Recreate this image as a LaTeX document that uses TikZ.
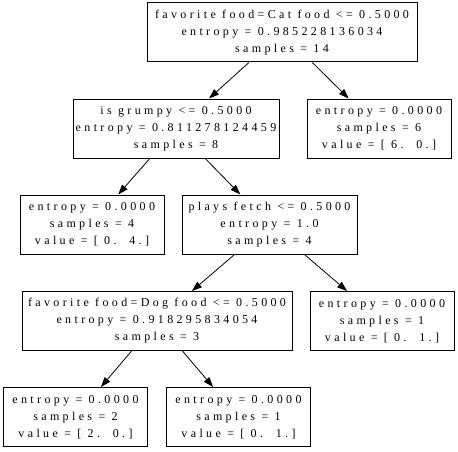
\documentclass[tikz,border=0pt]{standalone}
\usepackage{fontspec}
\setmainfont{Liberation Serif}[LetterSpace=28]
\usetikzlibrary{arrows.meta}
\begin{document}
\begin{tikzpicture}[x=1pt,y=-1pt,
  box/.style={draw=black, line width=1pt, rectangle, inner sep=0pt, minimum height=59pt, align=center, font=\fontsize{12}{17}\selectfont},
  leaf/.style={box, minimum width=144pt},
  edge/.style={-{Triangle[length=10pt,width=7pt]}, line width=0.8pt}]
\useasboundingbox[fill=white] (0,0) rectangle (458,452);
\node[box, minimum width=270pt] (root) at (282,32.5) {favorite food=Cat food <= 0.5000\\entropy = 0.985228136034\\samples = 14};
\node[box, minimum width=206pt] (grumpy) at (176,128.5) {is grumpy <= 0.5000\\entropy = 0.811278124459\\samples = 8};
\node[leaf] (l6) at (379,128.5) {entropy = 0.0000\\samples = 6\\value = [ 6.\ \ 0.]};
\node[leaf] (l4) at (92,224.5) {entropy = 0.0000\\samples = 4\\value = [ 0.\ \ 4.]};
\node[box, minimum width=175pt] (fetch) at (269.5,224.5) {plays fetch <= 0.5000\\entropy = 1.0\\samples = 4};
\node[box, minimum width=270pt] (dog) at (157,321) {favorite food=Dog food <= 0.5000\\entropy = 0.918295834054\\samples = 3};
\node[leaf] (l1r) at (382,321) {entropy = 0.0000\\samples = 1\\value = [ 0.\ \ 1.]};
\node[leaf] (l2) at (75.5,417) {entropy = 0.0000\\samples = 2\\value = [ 2.\ \ 0.]};
\node[leaf] (l1b) at (238.5,417) {entropy = 0.0000\\samples = 1\\value = [ 0.\ \ 1.]};
\draw[edge] (root) -- (grumpy);
\draw[edge] (root) -- (l6);
\draw[edge] (grumpy) -- (l4);
\draw[edge] (grumpy) -- (fetch);
\draw[edge] (fetch) -- (dog);
\draw[edge] (fetch) -- (l1r);
\draw[edge] (dog) -- (l2);
\draw[edge] (dog) -- (l1b);
\end{tikzpicture}
\end{document}
